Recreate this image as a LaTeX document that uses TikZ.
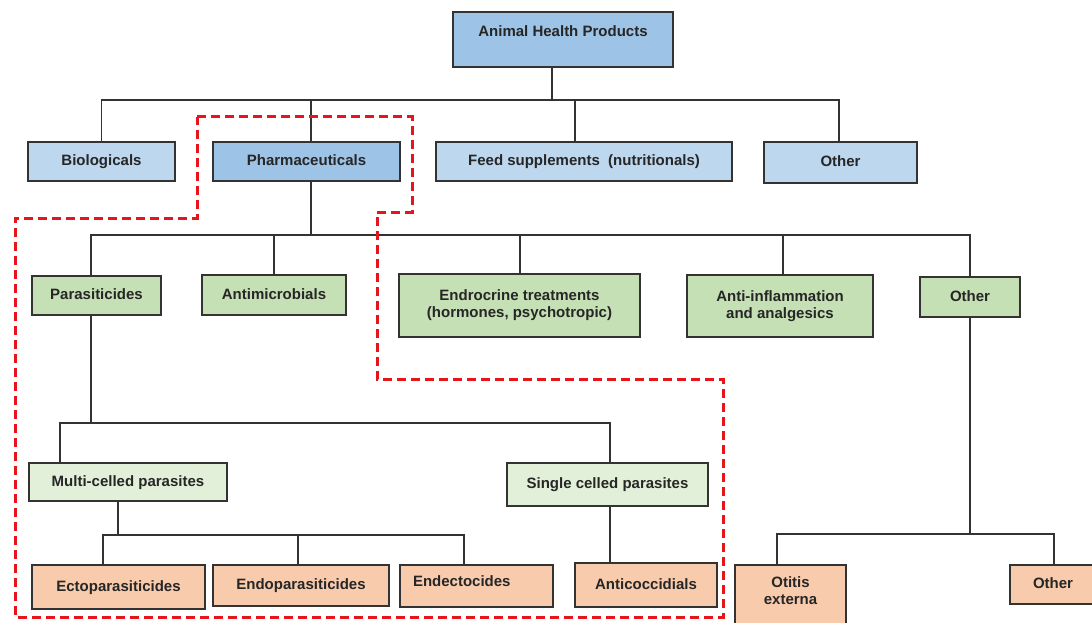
\documentclass[tikz,border=0pt]{standalone}
\usepackage{fontspec}
\setmainfont{Liberation Sans}
\usetikzlibrary{positioning}

\definecolor{blueL}{HTML}{BDD7EE}
\definecolor{blueD}{HTML}{9DC3E6}
\definecolor{greenM}{HTML}{C5E0B4}
\definecolor{greenL}{HTML}{E2F0D9}
\definecolor{orangeL}{HTML}{F8CBAD}
\definecolor{dashred}{HTML}{E8141C}

\begin{document}
\begin{tikzpicture}[x=1pt, y=-1pt,
  every node/.style={font=\fontsize{15}{17}\selectfont\bfseries, text=black!85},
  box/.style={draw=black!80, line width=1.8pt, inner sep=0pt},
  onebox/.style={box, text height=11pt, text depth=3pt},
  link/.style={draw=black!80, line width=1.5pt},
  redline/.style={draw=dashred, line width=3pt, dash pattern=on 9pt off 5pt}]
\useasboundingbox (0,0) rectangle (1092,623);
\clip (0,0) rectangle (1092,623);

% top
\node[box, fill=blueD, anchor=base, minimum width=220pt, text height=25pt, text depth=30pt] (ahp) at (563,37) {Animal Health Products};

% first level
\node[onebox, fill=blueL, minimum width=147pt, minimum height=39pt] (bio) at (101.5,161.5) {Biologicals};
\node[onebox, fill=blueD, minimum width=187pt, minimum height=39pt] (pharma) at (306.5,161.5) {Pharmaceuticals};
\node[onebox, fill=blueL, minimum width=296pt, minimum height=39pt] (feed) at (584,161.5) {Feed supplements\ \ (nutritionals)};
\node[onebox, fill=blueL, minimum width=153pt, minimum height=41pt] (oth1) at (840.5,162.5) {Other};

% pharmaceuticals
\node[onebox, fill=greenM, minimum width=129pt, minimum height=39pt] (para) at (96.5,295.5) {Parasiticides};
\node[onebox, fill=greenM, minimum width=144pt, minimum height=40pt] (anti) at (274,295) {Antimicrobials};
\node[box, fill=greenM, align=center, minimum width=241pt, minimum height=63pt] (endo) at (519.5,305.5) {Endrocrine treatments\\(hormones,\ psychotropic)};
\node[box, fill=greenM, align=center, minimum width=186pt, minimum height=62pt] (inflam) at (780,306) {Anti-inflammation\\and analgesics};
\node[onebox, fill=greenM, minimum width=100pt, minimum height=40pt] (oth2) at (970,297) {Other};

% parasiticides
\node[onebox, fill=greenL, minimum width=198pt, minimum height=38pt] (multi) at (128,482) {Multi-celled parasites};
\node[onebox, fill=greenL, minimum width=201pt, minimum height=43pt] (single) at (607.5,484.5) {Single celled parasites};

% bottom row
\node[onebox, fill=orangeL, minimum width=173pt, minimum height=44pt] (ecto) at (118.5,587) {Ectoparasiticides};
\node[onebox, fill=orangeL, minimum width=176pt, minimum height=41pt] (endopar) at (301,585.5) {Endoparasiticides};
\node[box, fill=orangeL, anchor=base, text width=127pt, inner xsep=13pt, align=left, text height=21pt, text depth=21pt] (endecto) at (476.5,586) {Endectocides};
\node[onebox, fill=orangeL, minimum width=142pt, minimum height=44pt] (cocc) at (646,585) {Anticoccidials};
\node[box, fill=orangeL, anchor=base, text width=111pt, align=center, text height=22pt, text depth=60pt] (otitis) at (790.5,587) {Otitis\\externa};
\node[onebox, fill=orangeL, minimum width=86pt, minimum height=39pt] (oth3) at (1053,584.5) {Other};

% connectors
\foreach \n/\dx in {bio/0, pharma/4.5, feed/-9, oth1/-1.5}
  \draw[link] ([xshift=-11pt]ahp.south) -- ++(0,32) -| ([xshift=\dx pt]\n.north);
\foreach \n/\dx in {para/-5.5, anti/0, endo/0.5, inflam/3, oth2/0}
  \draw[link] ([xshift=4.5pt]pharma.south) -- ++(0,53) -| ([xshift=\dx pt]\n.north);
\draw[link] ([xshift=-5.5pt]para.south) -- ++(0,107) -| ([xshift=-68pt]multi.north);
\draw[link] ([xshift=-5.5pt]para.south) -- ++(0,107) -| ([xshift=2.5pt]single.north);
\foreach \n/\dx in {ecto/-15.5, endopar/-3, endecto/-12.5}
  \draw[link] ([xshift=-10pt]multi.south) -- ++(0,33) -| ([xshift=\dx pt]\n.north);
\draw[link] ([xshift=2.5pt]single.south) -- ([xshift=-36pt]cocc.north);
\draw[link] (oth2.south) -- ++(0,216) -| ([xshift=-13.5pt]otitis.north);
\draw[link] (oth2.south) -- ++(0,216) -| ([xshift=1pt]oth3.north);

% highlighted branch
\draw[redline] (197,117) -- (412,117) -- (412,212) -- (377,212) -- (377,379)
  -- (723,379) -- (723,617) -- (15,617) -- (15,218) -- (197,218) -- cycle;
\end{tikzpicture}
\end{document}
